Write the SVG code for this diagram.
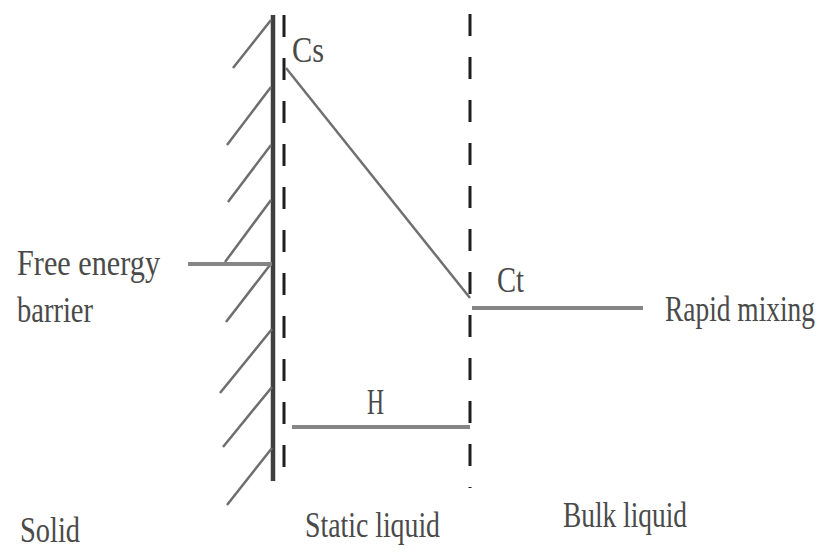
<svg xmlns="http://www.w3.org/2000/svg" width="827" height="555" viewBox="0 0 827 555">
<style>
.t{font-family:"Liberation Serif","Times New Roman",serif;font-size:36px;fill:#4a4a4a}
.hatch{stroke:#6e6e6e;stroke-width:2.5;fill:none}
.dash{stroke:#1e1e1e;stroke-width:3;stroke-dasharray:22 21;fill:none}
.gl{stroke:#858585;stroke-width:4;fill:none}
</style>
<rect width="827" height="555" fill="#fff"/>
<g id="solid-wall">
<line x1="273" y1="15" x2="273" y2="481" stroke="#3f3f3f" stroke-width="4.5"/>
<line class="hatch" x1="271" y1="20" x2="233" y2="68"/>
<line class="hatch" x1="271" y1="87" x2="227" y2="145"/>
<line class="hatch" x1="271" y1="145" x2="228" y2="202"/>
<line class="hatch" x1="271" y1="200" x2="225" y2="262"/>
<line class="hatch" x1="270" y1="265" x2="226" y2="322"/>
<line class="hatch" x1="272" y1="329" x2="220" y2="393"/>
<line class="hatch" x1="272" y1="387" x2="223" y2="447"/>
<line class="hatch" x1="272" y1="448" x2="227" y2="505"/>
</g>
<g id="boundaries">
<line class="dash" x1="284" y1="15" x2="284" y2="485"/>
<line class="dash" x1="470" y1="10" x2="470" y2="488" stroke-dashoffset="-4"/>
</g>
<g id="connectors">
<line id="profile" x1="286" y1="68" x2="470" y2="298" stroke="#707070" stroke-width="2.5"/>
<line id="barrier-line" class="gl" x1="188" y1="264" x2="272" y2="264"/>
<line id="rapid-line" class="gl" x1="472" y1="308" x2="643" y2="308"/>
<line id="h-line" class="gl" x1="292" y1="427" x2="470" y2="427" stroke-width="5"/>
</g>
<g id="label-cs"><text class="t" x="292" y="62" textLength="32" lengthAdjust="spacingAndGlyphs">Cs</text></g>
<g id="label-ct"><text class="t" x="497" y="292" textLength="27" lengthAdjust="spacingAndGlyphs">Ct</text></g>
<g id="label-barrier"><text class="t" x="17" y="275" textLength="143" lengthAdjust="spacingAndGlyphs">Free energy</text><text class="t" x="17" y="322" textLength="76" lengthAdjust="spacingAndGlyphs">barrier</text></g>
<g id="label-rapid"><text class="t" style="font-size:29px" transform="scale(1,1.25)" x="665" y="256.8" textLength="150" lengthAdjust="spacingAndGlyphs">Rapid mixing</text></g>
<g id="label-h"><text class="t" x="367" y="414" textLength="17" lengthAdjust="spacingAndGlyphs">H</text></g>
<g id="label-solid"><text class="t" x="20" y="542" textLength="60" lengthAdjust="spacingAndGlyphs">Solid</text></g>
<g id="label-static"><text class="t" x="305" y="537" textLength="135" lengthAdjust="spacingAndGlyphs">Static liquid</text></g>
<g id="label-bulk"><text class="t" x="563" y="527" textLength="124" lengthAdjust="spacingAndGlyphs">Bulk liquid</text></g>
</svg>
